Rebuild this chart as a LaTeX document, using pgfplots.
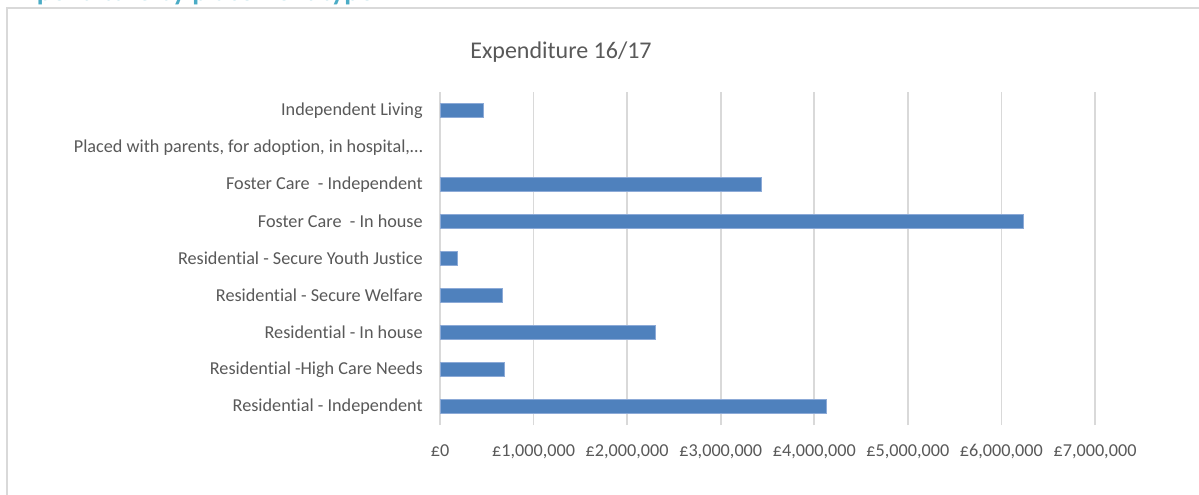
\documentclass[border=0pt]{standalone}
\usepackage{fontspec}
\setmainfont{Carlito}[Ligatures={NoCommon}]
\usepackage{pgfplots}
\pgfplotsset{compat=1.18}
\definecolor{barblue}{RGB}{79,129,189}
\definecolor{baredge}{RGB}{140,170,215}
\definecolor{gridgray}{RGB}{217,217,217}
\definecolor{txtgray}{RGB}{89,89,89}
\definecolor{headblue}{RGB}{75,172,198}
\begin{document}
\begin{tikzpicture}
\useasboundingbox (0,0) rectangle (599.5pt,247pt);
\clip (0,0) rectangle (599.5pt,247pt);
\fill[white] (0,0) rectangle (599.5pt,247pt);
% cut-off heading
\node[anchor=base west, inner sep=0pt, text=headblue, font=\fontsize{14}{16}\selectfont\bfseries] at (5pt,247pt) {Expenditure by placement type};
% chart frame
\draw[gridgray, line width=1pt] (3.5pt,-2pt) -- (3.5pt,243pt) -- (602pt,243pt);
% chart title
\node[text=txtgray, font=\fontsize{12}{14}\selectfont] at (280.5pt,221pt) {Expenditure 16/17};
\begin{axis}[
  at={(220pt,34.5pt)}, anchor=south west,
  scale only axis, width=327.5pt, height=166.5pt,
  xbar, bar width=0.38,
  xmin=0, xmax=7000000, ymin=-0.5, ymax=8.5,
  axis lines=left, axis line style={draw=none},
  tick style={draw=none},
  xmajorgrids, grid style={gridgray, line width=0.8pt},
  xtick={0,1000000,2000000,3000000,4000000,5000000,6000000,7000000},
  xticklabels={£0,{£1,000,000},{£2,000,000},{£3,000,000},{£4,000,000},{£5,000,000},{£6,000,000},{£7,000,000}},
  scaled x ticks=false,
  ytick={0,1,2,3,4,5,6,7,8},
  yticklabels={Residential - Independent, Residential -High Care Needs, Residential - In house, Residential - Secure Welfare, Residential - Secure Youth Justice, Foster Care~ - In house, Foster Care~ - Independent, {Placed with parents, for adoption, in hospital,…}, Independent Living},
  ticklabel style={text=txtgray, font=\fontsize{9.1}{11}\selectfont},
  xticklabel style={yshift=-4pt},
  yticklabel style={xshift=-3pt},
]
\addplot[fill=barblue, draw=baredge, line width=0.4pt] coordinates {
(4130000,0)
(685000,1)
(2300000,2)
(670000,3)
(186000,4)
(6240000,5)
(3440000,6)
(468000,8)
};
\end{axis}
\end{tikzpicture}
\end{document}
